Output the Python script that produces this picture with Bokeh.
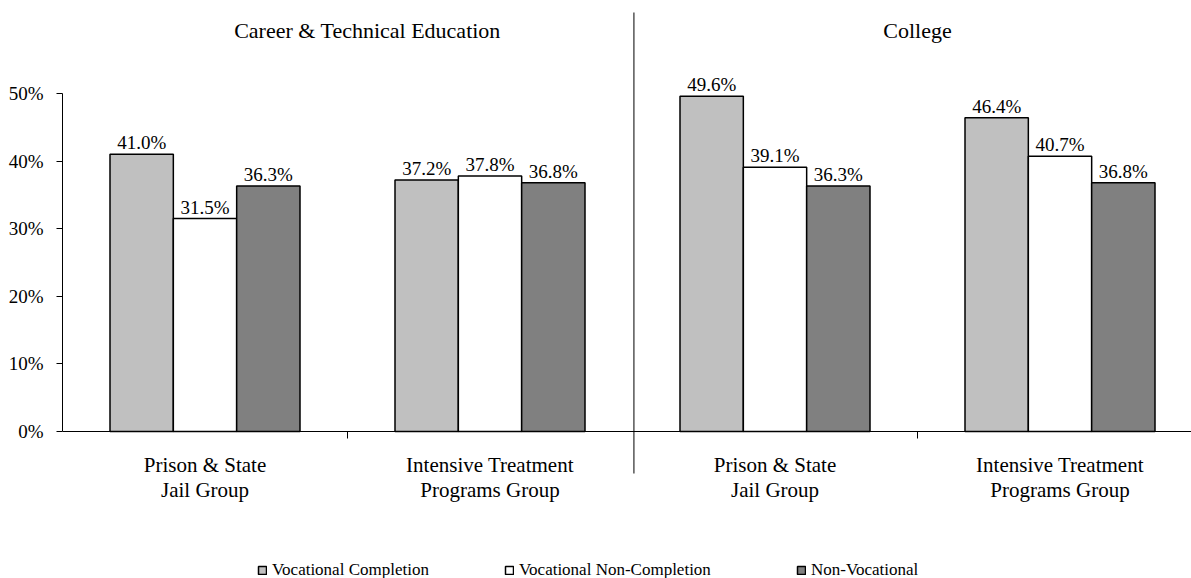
from bokeh.plotting import figure
from bokeh.models import (ColumnDataSource, Range1d, LinearAxis, FixedTicker,
                          PrintfTickFormatter, Legend, LegendItem)
from bokeh.core.properties import value
from bokeh.embed import file_html
from bokeh.resources import INLINE

# ---- data -------------------------------------------------------------
panels = ["Career & Technical Education", "College"]
groups_line1 = ["Prison & State", "Intensive Treatment",
                "Prison & State", "Intensive Treatment"]
groups_line2 = ["Jail Group", "Programs Group",
                "Jail Group", "Programs Group"]
series = ["Vocational Completion", "Vocational Non-Completion", "Non-Vocational"]
completion = [41.0, 37.2, 49.6, 46.4]
non_completion = [31.5, 37.8, 39.1, 40.7]
non_vocational = [36.3, 36.8, 36.3, 36.8]
y_ticks = [0, 10, 20, 30, 40, 50]

colors = ["#C0C0C0", "#FFFFFF", "#808080"]
FONT = "Liberation Serif"

# ---- geometry ----------------------------------------------------------
W, H = 1191, 578
LEFT = 62
px_per_group = 285.0
px_per_unit = 6.76          # pixels per percentage point
zero_px = 431               # screen row of the 0% baseline

x_end = (W - LEFT) / px_per_group
y_top = zero_px / px_per_unit
y_bot = -(H - zero_px) / px_per_unit

p = figure(width=W, height=H, output_backend="svg", toolbar_location=None,
           x_axis_type=None, y_axis_type=None,
           x_range=Range1d(0, x_end), y_range=Range1d(y_bot, y_top),
           min_border_left=LEFT, min_border_right=0,
           min_border_top=0, min_border_bottom=0)
p.outline_line_color = None
p.grid.visible = False
p.background_fill_color = "white"
p.border_fill_color = "white"

# ---- y axis ------------------------------------------------------------
yax = LinearAxis(bounds=(0, 50), ticker=FixedTicker(ticks=y_ticks),
                 formatter=PrintfTickFormatter(format="%d%%"))
yax.axis_line_color = "black"
yax.major_tick_line_color = "black"
yax.major_tick_out = 6
yax.major_tick_in = 0
yax.minor_tick_line_color = None
yax.major_label_standoff = 13
yax.major_label_text_font = FONT
yax.major_label_text_font_size = "19px"
yax.major_label_text_color = "black"
p.add_layout(yax, "left")

# ---- bars --------------------------------------------------------------
bar_w = 2.0 / 9.0
offsets = [-bar_w, 0.0, bar_w]
values = [completion, non_completion, non_vocational]
centers = [i + 0.5 for i in range(len(completion))]

renderers = []
for name, vals, off, col in zip(series, values, offsets, colors):
    src = ColumnDataSource(dict(
        x=[c + off for c in centers],
        top=vals,
        label=[f"{v:.1f}%" for v in vals],
    ))
    r = p.vbar(x="x", top="top", width=bar_w, bottom=0, source=src,
               fill_color=col, line_color="black", line_width=1.5)
    renderers.append(r)
    p.text(x="x", y="top", text="label", source=src,
           text_align="center", text_baseline="bottom", y_offset=-1,
           text_font=value(FONT), text_font_size="19px", text_color="black")

# ---- x axis: baseline, ticks, category labels ---------------------------
p.segment(x0=[0], y0=[0], x1=[x_end], y1=[0], line_color="black", line_width=1)
tick_len = 7 / px_per_unit
p.segment(x0=[1, 3], y0=[0, 0], x1=[1, 3], y1=[-tick_len, -tick_len],
          line_color="black", line_width=1)
p.text(x=centers, y=[-(464 - zero_px) / px_per_unit] * 4, text=groups_line1,
       text_align="center", text_baseline="middle",
       text_font=value(FONT), text_font_size="21px", text_color="black")
p.text(x=centers, y=[-(489 - zero_px) / px_per_unit] * 4, text=groups_line2,
       text_align="center", text_baseline="middle",
       text_font=value(FONT), text_font_size="21px", text_color="black")

# ---- panel divider and panel titles -------------------------------------
p.segment(x0=[2.005], y0=[(zero_px - 12) / px_per_unit],
          x1=[2.005], y1=[-(473 - zero_px) / px_per_unit],
          line_color="black", line_width=1)
title_y = (zero_px - 30) / px_per_unit
p.text(x=[1.07, 3.0], y=[title_y, title_y], text=panels,
       text_align="center", text_baseline="middle",
       text_font=value(FONT), text_font_size="22px", text_color="black")

# ---- legend -----------------------------------------------------------
legend_x = [257, 504, 796]
for name, r, lx in zip(series, renderers, legend_x):
    lg = Legend(items=[LegendItem(label=name, renderers=[r])],
                location=(lx - LEFT, -2), orientation="horizontal",
                background_fill_alpha=0, border_line_alpha=0,
                padding=0, margin=0, spacing=0,
                glyph_width=10, glyph_height=10, label_standoff=5,
                label_height=20,
                label_text_font=FONT, label_text_font_size="17px",
                label_text_color="black", label_text_baseline="middle")
    p.add_layout(lg)

open("out.html", "w").write(file_html(p, INLINE))
